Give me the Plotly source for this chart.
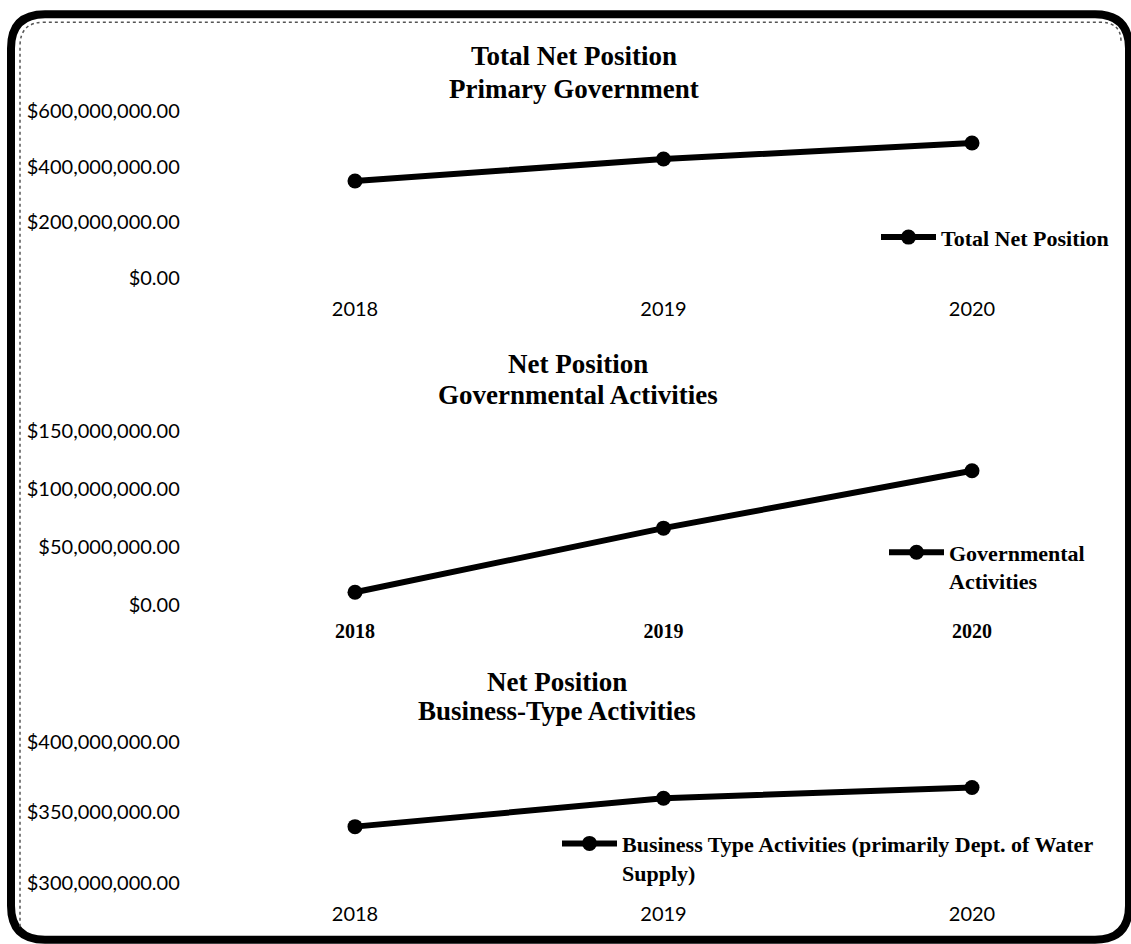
import plotly.graph_objects as go

W, H = 1131, 960
# The photographed picture maps page y to picture y as: y_pic = OFF + SCALE * y_page
OFF, SCALE = 11.8, 0.9745

# ---------------- data ----------------
years = ["2018", "2019", "2020"]
total_net_position = [349e6, 428e6, 486e6]
governmental_activities = [10.9e6, 66.3e6, 116e6]
business_type_activities = [340e6, 360e6, 367.6e6]

y1_tickvals = [0, 200e6, 400e6, 600e6]
y1_ticktext = ["$0.00", "$200,000,000.00", "$400,000,000.00", "$600,000,000.00"]
y2_tickvals = [0, 50e6, 100e6, 150e6]
y2_ticktext = ["$0.00", "$50,000,000.00", "$100,000,000.00", "$150,000,000.00"]
y3_tickvals = [300e6, 350e6, 400e6]
y3_ticktext = ["$300,000,000.00", "$350,000,000.00", "$400,000,000.00"]

legend1_name = "Total Net Position"
legend2_name = "Governmental<br>Activities"
legend3_name = "Business Type Activities (primarily Dept. of Water<br>Supply)"

titles = [
    ("Total Net Position", "Primary Government"),
    ("Net Position", "Governmental Activities"),
    ("Net Position", "Business-Type Activities"),
]

# ---------------- helpers (target picture pixels -> paper fractions) ----------------
def fx(px):
    return px / W

def fy(py):
    return 1 - ((py - OFF) / SCALE) / H

SANS = "Lato"
SERIF = "Liberation Serif"

line_style = dict(color="black", width=6)
marker_style = dict(color="black", size=15, symbol="circle")

fig = go.Figure()
fig.add_trace(go.Scatter(x=years, y=total_net_position, mode="lines+markers",
                         name=legend1_name, line=line_style, marker=marker_style,
                         xaxis="x", yaxis="y", legend="legend", cliponaxis=False))
fig.add_trace(go.Scatter(x=years, y=governmental_activities, mode="lines+markers",
                         name=legend2_name, line=line_style, marker=marker_style,
                         xaxis="x2", yaxis="y2", legend="legend2", cliponaxis=False))
fig.add_trace(go.Scatter(x=years, y=business_type_activities, mode="lines+markers",
                         name=legend3_name, line=line_style, marker=marker_style,
                         xaxis="x3", yaxis="y3", legend="legend3", cliponaxis=False))

xdom = [fx(200.75), fx(1126.25)]

def xax(anchor, font, standoff):
    return dict(domain=xdom, anchor=anchor, type="category", range=[-0.5, 2.5],
                showgrid=False, zeroline=False, showline=False, ticks="",
                tickfont=font, ticklabelstandoff=standoff, fixedrange=True)

def yax(anchor, dom, rng, tv, tt):
    return dict(domain=dom, anchor=anchor, range=rng, tickvals=tv, ticktext=tt,
                showgrid=False, zeroline=False, showline=False, ticks="",
                tickfont=dict(family=SANS, size=20, color="black"),
                ticklabelstandoff=20, fixedrange=True)

sans_tick = dict(family=SANS, size=20, color="black")
serif_tick = dict(family=SERIF, size=20, color="black", weight="bold")

legend_font = dict(family=SERIF, size=22, color="black", weight="bold")

annotations = []
title_pos = [
    (574, 55, 88),
    (578, 363, 394),
    (557, 680, 709),
]
for (l1, l2), (cx, y1, y2) in zip(titles, title_pos):
    for txt, yy in ((l1, y1), (l2, y2)):
        annotations.append(dict(text=txt, x=fx(cx), y=fy(yy), xref="paper", yref="paper",
                                xanchor="center", yanchor="middle", showarrow=False,
                                font=dict(family=SERIF, size=27, color="black", weight="bold")))

# rounded border
def rounded_rect(x0, y0, x1, y1, r):
    return (f"M {fx(x0+r)},{fy(y0)} L {fx(x1-r)},{fy(y0)} "
            f"Q {fx(x1)},{fy(y0)} {fx(x1)},{fy(y0+r)} "
            f"L {fx(x1)},{fy(y1-r)} Q {fx(x1)},{fy(y1)} {fx(x1-r)},{fy(y1)} "
            f"L {fx(x0+r)},{fy(y1)} Q {fx(x0)},{fy(y1)} {fx(x0)},{fy(y1-r)} "
            f"L {fx(x0)},{fy(y0+r)} Q {fx(x0)},{fy(y0)} {fx(x0+r)},{fy(y0)} Z")

shapes = [
    dict(type="path", xref="paper", yref="paper", path=rounded_rect(11, 13, 1129, 938, 34),
         line=dict(color="black", width=8)),
    dict(type="path", xref="paper", yref="paper",
         path=(f"M {fx(20)},{fy(925)} L {fx(20)},{fy(45)} Q {fx(20)},{fy(21)} {fx(44)},{fy(21)} "
               f"L {fx(1100)},{fy(21)} Q {fx(1121)},{fy(21)} {fx(1121)},{fy(40)}"),
         line=dict(color="#555555", width=1.5, dash="dot")),
]

fig.update_layout(
    width=W, height=H,
    margin=dict(l=0, r=0, t=0, b=0),
    paper_bgcolor="white", plot_bgcolor="rgba(0,0,0,0)",
    xaxis=xax("y", sans_tick, 17),
    yaxis=yax("x", [fy(276.7), fy(110)], [0, 600e6], y1_tickvals, y1_ticktext),
    xaxis2=xax("y2", serif_tick, 12),
    yaxis2=yax("x2", [fy(603.3), fy(430)], [0, 150e6], y2_tickvals, y2_ticktext),
    xaxis3=xax("y3", sans_tick, 17),
    yaxis3=yax("x3", [fy(881.7), fy(740)], [300e6, 400e6], y3_tickvals, y3_ticktext),
    legend=dict(x=fx(876), y=fy(236), xanchor="left", yanchor="middle", itemwidth=55,
                font=legend_font, bgcolor="rgba(0,0,0,0)", valign="top"),
    legend2=dict(x=fx(884), y=fy(530), xanchor="left", yanchor="top", itemwidth=55,
                 font=legend_font, bgcolor="rgba(0,0,0,0)", valign="top"),
    legend3=dict(x=fx(557), y=fy(821), xanchor="left", yanchor="top", itemwidth=55,
                 font=legend_font, bgcolor="rgba(0,0,0,0)", valign="top"),
    annotations=annotations,
    shapes=shapes,
    showlegend=True,
)

fig.write_html("out.html")
